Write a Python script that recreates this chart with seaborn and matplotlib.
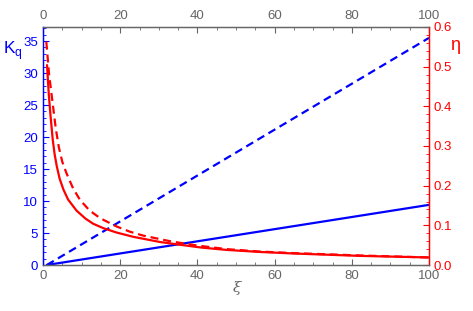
import numpy as np
import pandas as pd
import seaborn as sns
from matplotlib import pyplot as plt
from matplotlib.ticker import MultipleLocator

# K_q lines (left axis)
xi_k = [1, 100]
kq_solid = [0, 9.4]
kq_dashed = [0, 35.5]

# eta curves (right axis)
xi_eta_solid = [1.04, 1.5, 1.9, 2.5, 3.0, 3.55, 4.3, 5.3, 6.5, 8.7, 11, 13, 15.6, 19,
                23.4, 30.3, 35.5, 41, 47.6, 56, 64.9, 82.1, 100]
eta_solid = [0.504, 0.43, 0.382, 0.318, 0.28, 0.25, 0.218, 0.19, 0.165, 0.137, 0.117, 0.104,
             0.093, 0.082, 0.071, 0.058, 0.051, 0.044, 0.038, 0.033, 0.029, 0.023, 0.019]
xi_eta_dashed = [0.86, 1.55, 2.6, 3.3, 4.1, 5, 6.1, 7.8, 9.6, 12, 14.8, 19.1, 22.5, 26,
                 32.9, 40, 47.6, 56, 64.9, 82.1, 100]
eta_dashed = [0.563, 0.483, 0.40, 0.345, 0.297, 0.26, 0.231, 0.193, 0.164, 0.138, 0.118,
              0.097, 0.084, 0.074, 0.060, 0.049, 0.040, 0.034, 0.030, 0.024, 0.019]

blue = '#0000ff'
red = '#ff0000'
gray = '#666666'
dash = (0, (3.6, 2.2))

sns.set_style('ticks')
plt.rcParams['font.family'] = ['Liberation Sans', 'DejaVu Sans']

fig = plt.figure(figsize=(4.73, 3.11), dpi=100)
ax = fig.add_axes([43/473, 46/311, 386/473, 238/311])
ax2 = ax.twinx()

sns.lineplot(x=xi_k, y=kq_solid, ax=ax, color=blue, lw=1.6)
sns.lineplot(x=xi_k, y=kq_dashed, ax=ax, color=blue, lw=1.6, linestyle=dash)
sns.lineplot(x=xi_eta_solid, y=eta_solid, ax=ax2, color=red, lw=1.6, sort=False)
sns.lineplot(x=xi_eta_dashed, y=eta_dashed, ax=ax2, color=red, lw=1.6, linestyle=dash, sort=False)

ax.set_xlim(0, 100)
ax.set_ylim(0, 37.2)
ax2.set_ylim(0, 0.6)

ax.xaxis.set_major_locator(MultipleLocator(20))
ax.xaxis.set_minor_locator(MultipleLocator(5))
ax.yaxis.set_major_locator(MultipleLocator(5))
ax.yaxis.set_minor_locator(MultipleLocator(1))
ax2.yaxis.set_major_locator(MultipleLocator(0.1))
ax2.yaxis.set_minor_locator(MultipleLocator(0.02))
ax2.yaxis.set_major_formatter(lambda v, p: f'{v:.1f}')

ax.tick_params(axis='x', which='both', direction='in', top=True, labeltop=True,
               colors=gray, labelsize=9.5)
ax.tick_params(axis='x', which='major', length=4)
ax.tick_params(axis='x', which='minor', length=2.5)
ax.tick_params(axis='y', which='both', direction='in', colors=blue, labelsize=9.5)
ax.tick_params(axis='y', which='major', length=4)
ax.tick_params(axis='y', which='minor', length=2.5)
ax2.tick_params(axis='y', which='both', direction='in', colors=red, labelsize=9.5)
ax2.tick_params(axis='y', which='major', length=4)
ax2.tick_params(axis='y', which='minor', length=2.5)

for a in (ax, ax2):
    a.set_xlabel('')
    a.set_ylabel('')
    a.spines['top'].set_color(gray)
    a.spines['bottom'].set_color(gray)
    a.spines['left'].set_color(blue)
    a.spines['right'].set_color(red)
    for s in a.spines.values():
        s.set_linewidth(0.9)

fig.text(13/473, 1 - 51/311, r'K$_\mathregular{q}$', color=blue, fontsize=12.5,
         ha='center', va='center')
fig.text(455/473, 1 - 46/311, 'η', color=red, fontsize=13, ha='center', va='center')
fig.text(237/473, 1 - 288/311, 'ξ', color=gray, fontsize=11, style='italic',
         ha='center', va='center', family=['DejaVu Serif'])

fig.savefig('out.png', dpi=100)
